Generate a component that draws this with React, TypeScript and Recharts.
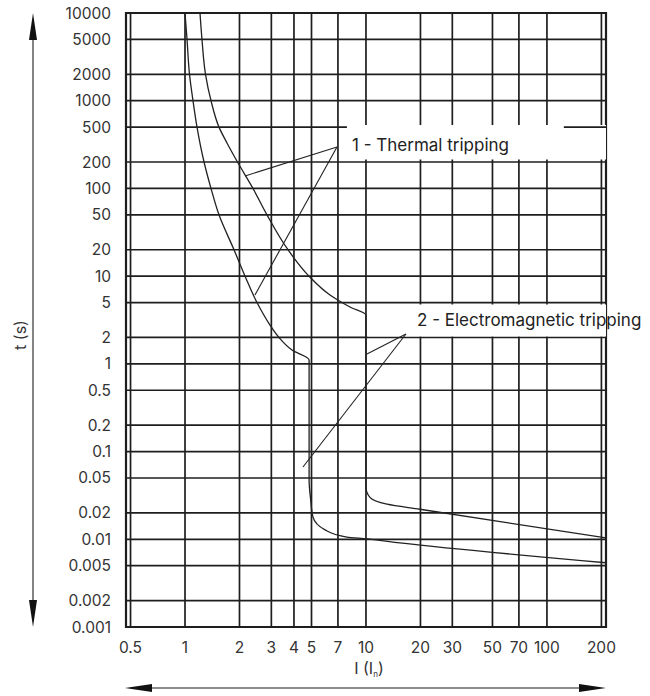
import React from 'react';
import { LineChart, Line, XAxis, YAxis, CartesianGrid, ReferenceArea, ReferenceLine } from 'recharts';

const xTicks = [0.5, 1, 2, 3, 4, 5, 7, 10, 20, 30, 50, 70, 100, 200];
const yTicks = [
  0.001, 0.002, 0.005, 0.01, 0.02, 0.05, 0.1, 0.2, 0.5, 1, 2, 5, 10, 20, 50, 100, 200, 500, 1000, 2000, 5000, 10000,
];

const X_MIN = 0.472;
const X_MAX = 212;

// curve 1: thermal from ~1 In, magnetic drop near 5 In
const curveLow = [
  { i: 1.0, t: 10000 }, { i: 1.026, t: 5000 }, { i: 1.059, t: 2000 }, { i: 1.107, t: 1000 },
  { i: 1.165, t: 500 }, { i: 1.274, t: 200 }, { i: 1.392, t: 100 }, { i: 1.541, t: 50 },
  { i: 1.865, t: 20 }, { i: 2.146, t: 10 }, { i: 2.499, t: 5 }, { i: 2.949, t: 2.77 },
  { i: 3.306, t: 2.0 }, { i: 3.9, t: 1.44 }, { i: 4.85, t: 1.107 }, { i: 4.85, t: 0.047 },
  { i: 4.95, t: 0.028 }, { i: 5.09, t: 0.018 }, { i: 5.94, t: 0.0128 }, { i: 7.85, t: 0.0106 },
  { i: 10.13, t: 0.0101 }, { i: 15.4, t: 0.0091 }, { i: 212, t: 0.0054 },
];

// curve 2: thermal from ~1.2 In, magnetic drop at 10 In
const curveHigh = [
  { i: 1.21, t: 10000 }, { i: 1.241, t: 5000 }, { i: 1.298, t: 2000 }, { i: 1.392, t: 1000 },
  { i: 1.541, t: 500 }, { i: 1.706, t: 330 }, { i: 1.95, t: 200 }, { i: 2.375, t: 100 },
  { i: 2.838, t: 50 }, { i: 3.707, t: 20 }, { i: 4.843, t: 10 }, { i: 6.327, t: 6.1 },
  { i: 8.157, t: 4.45 }, { i: 10, t: 3.6 }, { i: 10, t: 0.039 }, { i: 10.52, t: 0.03 },
  { i: 13.06, t: 0.0251 }, { i: 19.88, t: 0.022 }, { i: 212, t: 0.01035 },
];

const thermalLeaders = [
  [{ x: 6.915, y: 297 }, { x: 2.146, y: 138.6 }],
  [{ x: 6.915, y: 297 }, { x: 2.436, y: 6.1 }],
];
const magneticLeaders = [
  [{ x: 16.63, y: 2.19 }, { x: 10.13, y: 1.295 }],
  [{ x: 16.63, y: 2.19 }, { x: 4.486, y: 0.0667 }],
];

const INK = '#1e1e1e';
const FONT = 'Inter, "DejaVu Sans", sans-serif';

export default function App() {
  return (
    <div style={{ position: 'absolute', left: 0, top: 0, width: 650, height: 696, background: '#fff' }}>
      <LineChart width={650} height={696} margin={{ top: 13, right: 44, bottom: 39, left: 36 }}>
        <CartesianGrid stroke={INK} strokeWidth={1.7} />
        <XAxis
          dataKey="i"
          type="number"
          scale="log"
          domain={[X_MIN, X_MAX]}
          allowDataOverflow
          ticks={xTicks}
          interval={0}
          height={30}
          tickLine={false}
          axisLine={false}
          tickSize={0}
          tickMargin={15}
          tick={{ fill: '#333', fontSize: 15.5, fontFamily: FONT }}
        />
        <YAxis
          dataKey="t"
          type="number"
          scale="log"
          domain={[0.001, 10000]}
          allowDataOverflow
          ticks={yTicks}
          interval={0}
          width={90}
          tickLine={false}
          axisLine={false}
          tickSize={0}
          tickMargin={15}
          tick={{ fill: '#333', fontSize: 15.5, fontFamily: FONT }}
        />
        <ReferenceArea x1={X_MIN} x2={X_MAX} y1={0.001} y2={10000} fill="none" stroke={INK} strokeWidth={2.2} />
        <Line data={curveLow} dataKey="t" type="monotoneY" stroke="#222" strokeWidth={1.3} dot={false} isAnimationActive={false} />
        <Line data={curveHigh} dataKey="t" type="monotoneY" stroke="#222" strokeWidth={1.3} dot={false} isAnimationActive={false} />
        <ReferenceArea x1={7.85} x2={X_MAX} y1={214} y2={530} fill="#fff" fillOpacity={1} stroke="none" />
        <ReferenceArea x1={10.2} x2={X_MAX} y1={2.05} y2={4.74} fill="#fff" fillOpacity={1} stroke="none" />
        <ReferenceLine segment={[{ x: 124, y: 500 }, { x: X_MAX, y: 500 }]} stroke={INK} strokeWidth={1.7} />
        {thermalLeaders.concat(magneticLeaders).map((seg, k) => (
          <ReferenceLine key={k} segment={seg} stroke="#222" strokeWidth={1.1} />
        ))}
      </LineChart>
      <svg
        width={650}
        height={696}
        style={{ position: 'absolute', left: 0, top: 0, pointerEvents: 'none' }}
        fontFamily={FONT}
      >
        <text x={352} y={151} fontSize={17} fill="#222">1 - Thermal tripping</text>
        <text x={417} y={326} fontSize={17} fill="#222">2 - Electromagnetic tripping</text>
        <text transform="translate(26,335) rotate(-90)" textAnchor="middle" fontSize={16} fill="#333">t (s)</text>
        <text x={369} y={674} textAnchor="middle" fontSize={16} fill="#333">
          <tspan>I (I</tspan>
          <tspan fontSize={8} dy={3}>n</tspan>
          <tspan dy={-3}>)</tspan>
        </text>
        <line x1={33} y1={38} x2={33} y2={602} stroke="#666" strokeWidth={1.6} />
        <polygon points="33,13 29,40 37,40" fill="#111" />
        <polygon points="33,627 29,600 37,600" fill="#111" />
        <line x1={148} y1={688} x2={583} y2={688} stroke="#666" strokeWidth={1.6} />
        <polygon points="125,688 152,684 152,692" fill="#111" />
        <polygon points="606,688 579,684 579,692" fill="#111" />
      </svg>
    </div>
  );
}
